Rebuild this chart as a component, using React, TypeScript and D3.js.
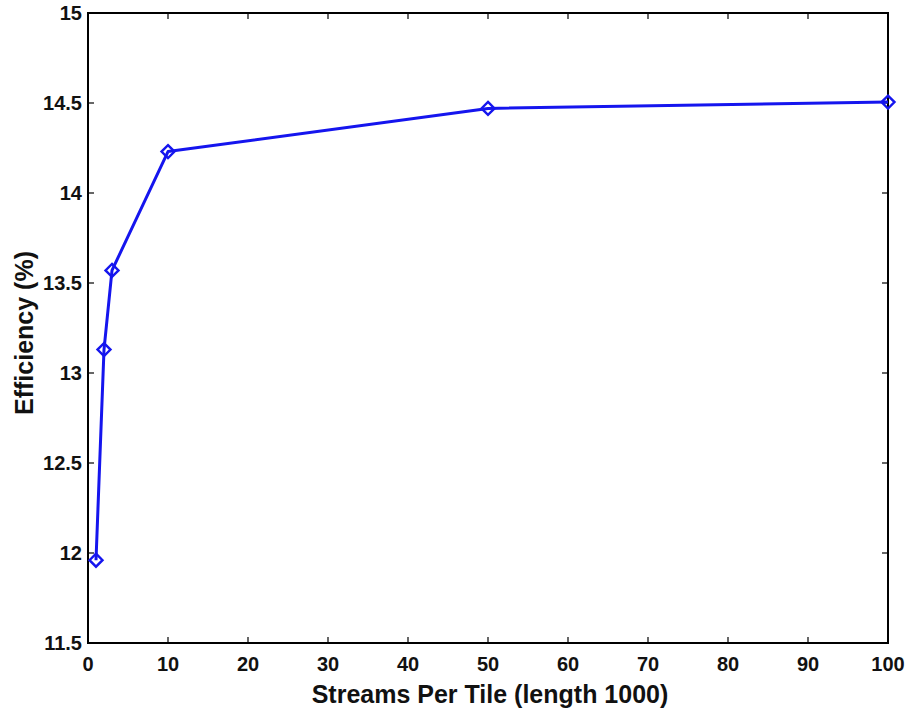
import React from "react";
import * as d3 from "d3";

const streams = [1, 2, 3, 10, 50, 100];
const efficiency = [11.96, 13.13, 13.57, 14.23, 14.47, 14.505];
const xTicks = [0, 10, 20, 30, 40, 50, 60, 70, 80, 90, 100];
const yTicks = [11.5, 12, 12.5, 13, 13.5, 14, 14.5, 15];
const xLabel = "Streams Per Tile (length 1000)";
const yLabel = "Efficiency (%)";

export default function App() {
  const W = 910, H = 708;
  const L = 88, R = 888, T = 13, B = 643;
  const x = d3.scaleLinear().domain([0, 100]).range([L, R]);
  const y = d3.scaleLinear().domain([11.5, 15]).range([B, T]);
  const line = d3.line<number>().x((_, i) => x(streams[i])).y((d) => y(d));
  const font = "Arial, 'Liberation Sans', Helvetica, sans-serif";
  const tl = 6;
  const diamond = (cx: number, cy: number) => {
    const s = 6.5;
    return `M${cx},${cy - s}L${cx + s},${cy}L${cx},${cy + s}L${cx - s},${cy}Z`;
  };
  return (
    <svg width={W} height={H} style={{ position: "absolute", left: 0, top: 0 }}>
      <rect width={W} height={H} fill="#fff" />
      {xTicks.map((t) => (
        <g key={"x" + t}>
          <line x1={x(t)} x2={x(t)} y1={B} y2={B - tl} stroke="#000" strokeWidth={1.2} />
          <line x1={x(t)} x2={x(t)} y1={T} y2={T + tl} stroke="#000" strokeWidth={1.2} />
          <text x={x(t)} y={664} textAnchor="middle" dominantBaseline="central" fontFamily={font} fontWeight="bold" fontSize={20} fill="#111">{t}</text>
        </g>
      ))}
      {yTicks.map((t) => (
        <g key={"y" + t}>
          <line x1={L} x2={L + tl} y1={y(t)} y2={y(t)} stroke="#000" strokeWidth={1.2} />
          <line x1={R} x2={R - tl} y1={y(t)} y2={y(t)} stroke="#000" strokeWidth={1.2} />
          <text x={82} y={y(t)} textAnchor="end" dominantBaseline="central" fontFamily={font} fontWeight="bold" fontSize={20} fill="#111">{t}</text>
        </g>
      ))}
      <rect x={L} y={T} width={R - L} height={B - T} fill="none" stroke="#000" strokeWidth={2} />
      <path d={line(efficiency) || ""} fill="none" stroke="#1515ee" strokeWidth={3} strokeLinejoin="round" />
      {efficiency.map((v, i) => (
        <path key={i} d={diamond(x(streams[i]), y(v))} fill="none" stroke="#1515ee" strokeWidth={2.4} />
      ))}
      <text x={490} y={694} textAnchor="middle" dominantBaseline="central" fontFamily={font} fontWeight="bold" fontSize={25} fill="#111">{xLabel}</text>
      <text transform={`translate(24,333) rotate(-90)`} textAnchor="middle" dominantBaseline="central" fontFamily={font} fontWeight="bold" fontSize={25} fill="#111">{yLabel}</text>
    </svg>
  );
}
